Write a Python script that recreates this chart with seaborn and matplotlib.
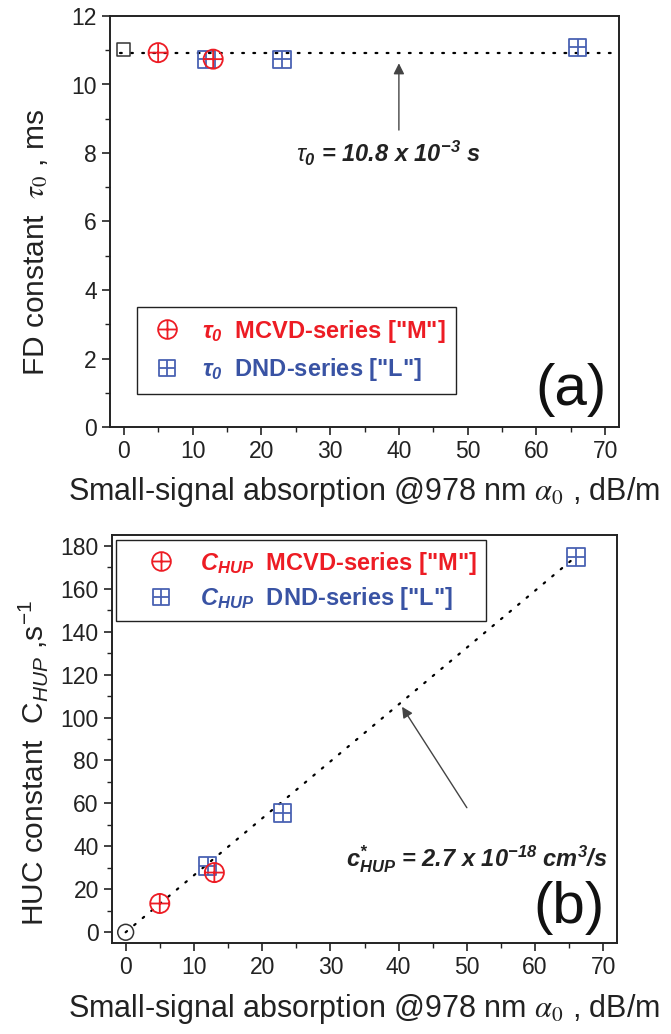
import numpy as np
import matplotlib
matplotlib.use("Agg")
import matplotlib.pyplot as plt
import seaborn as sns
from matplotlib.path import Path
from matplotlib.lines import Line2D
from matplotlib.ticker import MultipleLocator

# ---------------- data ----------------
# panel (a): FD constant tau0 (ms) vs small-signal absorption alpha0 (dB/m)
alpha_mcvd = [5, 13]
tau_mcvd = [10.93, 10.74]
alpha_dnd = [12, 23, 66]
tau_dnd = [10.74, 10.74, 11.09]
alpha_ref_a = [0]
tau_ref = [11.03]
tau_fit_x = [-0.5, 72]
tau_fit_y = [10.92, 10.92]

# panel (b): HUC constant C_HUP (s^-1) vs alpha0
chup_mcvd = [13.4, 27.8]
chup_dnd = [30.8, 55.5, 174.7]
alpha_ref_b = [0]
chup_ref = [0.0]
chup_fit_x = [0, 66]
chup_fit_y = [0, 175]

x_ticks = [0, 10, 20, 30, 40, 50, 60, 70]
y_ticks_a = [0, 2, 4, 6, 8, 10, 12]
y_ticks_b = [0, 20, 40, 60, 80, 100, 120, 140, 160, 180]

labels_a = [r'$\mathbf{\tau_0}$  MCVD-series ["M"]',
            r'$\mathbf{\tau_0}$  DND-series ["L"]']
labels_b = [r'$\mathbf{C_{HUP}}$  MCVD-series ["M"]',
            r'$\mathbf{C_{HUP}}$  DND-series ["L"]']

RED = "#ED1C24"
BLUE = "#3953A4"
BLUE_M = "#4A62B3"
INK = "#222222"

sns.set_theme(style="ticks")
plt.rcParams["font.family"] = ["Liberation Sans", "DejaVu Sans"]
plt.rcParams["mathtext.fontset"] = "custom"
plt.rcParams["mathtext.rm"] = "Liberation Sans"
plt.rcParams["mathtext.it"] = "Liberation Sans:italic"
plt.rcParams["mathtext.bf"] = "Liberation Sans:bold:italic"
plt.rcParams["axes.edgecolor"] = INK

# custom marker paths
circle_plus = Path.make_compound_path(
    Path.unit_circle(),
    Path([[-1, 0], [1, 0]]),
    Path([[0, -1], [0, 1]]),
)
square_verts = [[-1, -1], [1, -1], [1, 1], [-1, 1], [-1, -1]]
sq_codes = [Path.MOVETO, Path.LINETO, Path.LINETO, Path.LINETO, Path.CLOSEPOLY]
square_grid = Path.make_compound_path(
    Path(square_verts, sq_codes),
    Path([[-1, 0], [1, 0]]),
    Path([[0, -1], [0, 1]]),
)
square_plain = Path(square_verts, sq_codes)

W, H = 671, 1034
fig = plt.figure(figsize=(W / 100, H / 100), dpi=100)
ax1 = fig.add_axes([110 / W, (H - 427) / H, 509 / W, 411 / H])
ax2 = fig.add_axes([112 / W, (H - 943) / H, 505 / W, 408 / H])

S_CIRC = 190
S_SQ = 155
MLW = 1.3
LEG_FS = 17
LAB_FS = 21.5

# ---------- panel (a) ----------
sns.lineplot(x=tau_fit_x, y=tau_fit_y, ax=ax1, color="black", lw=1.6,
             linestyle=(0, (0.8, 4.2)), dash_capstyle="round")
sns.scatterplot(x=alpha_ref_a, y=tau_ref, ax=ax1, marker=square_plain, s=90,
                color="#333333", facecolor="none", edgecolor="#333333", linewidth=1.1, zorder=3)
sns.scatterplot(x=alpha_mcvd, y=tau_mcvd, ax=ax1, marker=circle_plus, s=S_CIRC,
                color=RED, facecolor="none", edgecolor=RED, linewidth=MLW, zorder=4)
sns.scatterplot(x=alpha_dnd, y=tau_dnd, ax=ax1, marker=square_grid, s=S_SQ,
                color=BLUE_M, facecolor="none", edgecolor=BLUE_M, linewidth=MLW, zorder=3)

ax1.annotate("", xy=(40, 10.62), xytext=(40, 8.67),
             arrowprops=dict(arrowstyle="-|>", color="#444444", lw=1.0,
                             mutation_scale=16, shrinkA=0, shrinkB=0))
ax1.text(38.5, 8.0, r"$\tau_{\mathbf{0}}$ = 10.8 x 10$^{\mathbf{-3}}$ s",
         ha="center", va="center", fontsize=17, fontweight="bold", style="italic",
         color=INK)

ax1.set_xlim(-2, 72)
ax1.set_ylim(0, 12)
ax1.set_xticks(x_ticks)
ax1.set_yticks(y_ticks_a)
ax1.xaxis.set_minor_locator(MultipleLocator(5))
ax1.yaxis.set_minor_locator(MultipleLocator(1))
ax1.set_xlabel(r"Small-signal absorption @978 nm $\alpha_{\mathit{0}}$ , dB/m", fontsize=22)
ax1.set_ylabel(r"FD constant  $\tau_{\mathit{0}}$ , ms", fontsize=LAB_FS)
ax1.xaxis.label.set_math_fontfamily("stix")
ax1.yaxis.label.set_math_fontfamily("stix")
ax1.xaxis.set_label_coords(0.5, -0.118)
ax1.yaxis.set_label_coords(-0.118, 0.45)
ax1.text(0.975, 0.025, "(a)", transform=ax1.transAxes, ha="right", va="bottom",
         fontsize=42, color="#111111")

h_m = Line2D([], [], ls="none", marker=circle_plus, markersize=13.5, markerfacecolor="none",
             markeredgecolor=RED, markeredgewidth=MLW)
h_d = Line2D([], [], ls="none", marker=square_grid, markersize=12.2, markerfacecolor="none",
             markeredgecolor=BLUE_M, markeredgewidth=MLW)
leg1 = ax1.legend([h_m, h_d], labels_a,
                  loc="upper left", bbox_to_anchor=(0.053, 0.292), borderaxespad=0,
                  frameon=True, fancybox=False, edgecolor=INK, framealpha=1,
                  prop=dict(size=LEG_FS, weight="bold"), handlelength=1.64, handletextpad=0.65,
                  labelspacing=0.5, borderpad=0.45)
leg1.get_frame().set_linewidth(1.0)
for t, c in zip(leg1.get_texts(), [RED, BLUE]):
    t.set_color(c)

# ---------- panel (b) ----------
sns.lineplot(x=chup_fit_x, y=chup_fit_y, ax=ax2, color="black", lw=1.6,
             linestyle=(0, (0.8, 4.2)), dash_capstyle="round")
sns.scatterplot(x=alpha_ref_b, y=chup_ref, ax=ax2, marker="o", s=130,
                color="#333333", facecolor="none", edgecolor="#333333", linewidth=1.1, zorder=3)
sns.scatterplot(x=alpha_dnd, y=chup_dnd, ax=ax2, marker=square_grid, s=S_SQ,
                color=BLUE_M, facecolor="none", edgecolor=BLUE_M, linewidth=MLW, zorder=3)
sns.scatterplot(x=alpha_mcvd, y=chup_mcvd, ax=ax2, marker=circle_plus, s=S_CIRC,
                color=RED, facecolor="none", edgecolor=RED, linewidth=MLW, zorder=4)

ax2.annotate("", xy=(40.5, 105), xytext=(50, 58),
             arrowprops=dict(arrowstyle="-|>", color="#444444", lw=1.0,
                             mutation_scale=16, shrinkA=0, shrinkB=0))
ax2.text(51.5, 34, r"$\mathbf{c^{*}_{HUP}}$ = 2.7 x 10$^{\mathbf{-18}}$ cm$^{\mathbf{3}}$/s",
         ha="center", va="center", fontsize=17, fontweight="bold", style="italic",
         color=INK)

ax2.set_xlim(-2, 72)
ax2.set_ylim(-5, 185)
ax2.set_xticks(x_ticks)
ax2.set_yticks(y_ticks_b)
ax2.xaxis.set_minor_locator(MultipleLocator(5))
ax2.yaxis.set_minor_locator(MultipleLocator(10))
ax2.set_xlabel(r"Small-signal absorption @978 nm $\alpha_{\mathit{0}}$ , dB/m", fontsize=22)
ax2.set_ylabel(r"HUC constant  C$_{\mathit{HUP}}$ ,s$^{\mathrm{-1}}$", fontsize=LAB_FS)
ax2.xaxis.label.set_math_fontfamily("stix")
ax2.xaxis.set_label_coords(0.5, -0.12)
ax2.yaxis.set_label_coords(-0.123, 0.44)
ax2.text(0.975, 0.02, "(b)", transform=ax2.transAxes, ha="right", va="bottom",
         fontsize=42, color="#111111")

h_m2 = Line2D([], [], ls="none", marker=circle_plus, markersize=13.5, markerfacecolor="none",
              markeredgecolor=RED, markeredgewidth=MLW)
h_d2 = Line2D([], [], ls="none", marker=square_grid, markersize=12.2, markerfacecolor="none",
              markeredgecolor=BLUE_M, markeredgewidth=MLW)
leg2 = ax2.legend([h_m2, h_d2], labels_b,
                  loc="upper left", bbox_to_anchor=(0.008, 0.987), borderaxespad=0,
                  frameon=True, fancybox=False, edgecolor=INK, framealpha=1,
                  prop=dict(size=LEG_FS, weight="bold"), handlelength=3.05, handletextpad=0.1,
                  labelspacing=0.35, borderpad=0.4)
leg2.get_frame().set_linewidth(1.0)
for t, c in zip(leg2.get_texts(), [RED, BLUE]):
    t.set_color(c)

for ax in (ax1, ax2):
    for sp in ax.spines.values():
        sp.set_visible(True)
        sp.set_linewidth(1.4)
        sp.set_color(INK)
    ax.tick_params(which="major", direction="out", length=6, width=1.2, labelsize=16.5,
                   colors=INK, top=False, right=False)
    ax.tick_params(which="minor", direction="out", length=3.5, width=1.0,
                   top=False, right=False, colors=INK)
    ax.yaxis.label.set_color(INK)
    ax.xaxis.label.set_color(INK)

fig.savefig("out.png", dpi=100)
